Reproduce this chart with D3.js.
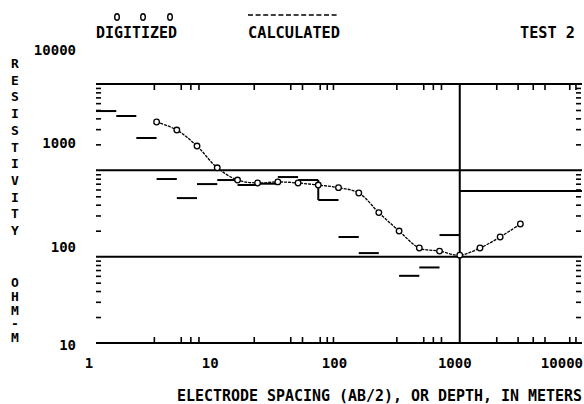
<!DOCTYPE html>
<html>
<head>
<meta charset="utf-8">
<script src="https://cdn.jsdelivr.net/npm/d3@7"></script>
<style>
  body { margin: 0; background: #fff; }
  svg text { font-family: "DejaVu Sans Mono", "Liberation Mono", monospace; font-weight: bold; fill: #000; }
</style>
</head>
<body>
<div id="chart"></div>
<script>
// sounding curve, test 2

// digitized apparent resistivity (AB/2 in m, ohm-m)
var digSpacing = [3.16, 4.64, 6.81, 10, 14.7, 21.5, 31.6, 46.4, 68.1, 100, 147, 215, 316, 464, 681, 1000, 1468, 2154, 3162];
var digRho     = [3630, 2930, 1910, 1070, 772, 713, 735, 713, 675, 630, 546, 324, 198, 126, 116, 104, 126, 169, 239];

// calculated values, one short step per interval
var calcFrom = [1, 1.47, 2.15, 3.16, 4.64, 6.81, 10, 14.7, 21.5, 31.6, 46.4, 68.1, 100, 147, 316, 464, 681];
var calcTo   = [1.47, 2.15, 3.16, 4.64, 6.81, 10, 14.7, 21.5, 31.6, 46.4, 68.1, 100, 147, 215, 464, 681, 1000];
var calcRho  = [4860, 4260, 2370, 793, 477, 693, 772, 676, 700, 836, 772, 453, 169, 110, 60, 75, 178];
var calcJoin = [11];   // steps joined to the one before by a vertical

// long reference lines
var gridRho = [1000, 100];
var gridSpacing = [1000];
var layerFrom = [1000], layerTo = [10000], layerRho = [575];

// ticks
var xTickVals = [3, 5, 6, 7, 20, 40, 50, 70, 80, 90, 300, 500, 600, 700, 2000, 3000, 4000, 5000, 8000, 9000];
var xLabelVals = [1, 10, 100, 1000, 10000];
var yTickVals = [20, 30, 40, 50, 60, 70, 80, 90, 200, 300, 400, 500, 600, 700, 800, 900, 2000, 3000, 4000, 5000, 6000, 7000, 8000, 9000];
var yLabelVals = [10, 100, 1000, 10000];

var W = 584, H = 404;
var pLeft = 96, pRight = 581, pTop = 84, pBottom = 343;

var svg = d3.select("#chart").append("svg")
    .attr("width", W)
    .attr("height", H);

var x = d3.scaleLog().domain([1, 10000]).range([pLeft, pRight]);
var y = d3.scaleLog().domain([10, 10000]).range([pBottom, pTop]);

// frame (top and bottom only)
svg.append("line").attr("x1", pLeft).attr("x2", pRight + 1).attr("y1", pTop).attr("y2", pTop)
    .attr("stroke", "#000").attr("stroke-width", 2);
svg.append("line").attr("x1", pLeft).attr("x2", pRight + 1).attr("y1", pBottom).attr("y2", pBottom)
    .attr("stroke", "#000").attr("stroke-width", 2);

// ticks, all pointing inward
function tickStyle(g) {
    g.select(".domain").remove();
    g.selectAll("line").attr("stroke", "#000").attr("stroke-width", 1.6);
}
svg.append("g").attr("transform", "translate(0," + pTop + ")")
    .call(d3.axisBottom(x).tickValues(xTickVals).tickSize(6).tickFormat(""))
    .call(tickStyle);
svg.append("g").attr("transform", "translate(0," + pBottom + ")")
    .call(d3.axisTop(x).tickValues(xTickVals).tickSize(6).tickFormat(""))
    .call(tickStyle);
svg.append("g").attr("transform", "translate(" + pLeft + ",0)")
    .call(d3.axisRight(y).tickValues(yTickVals).tickSize(5).tickFormat(""))
    .call(tickStyle);
svg.append("g").attr("transform", "translate(" + pRight + ",0)")
    .call(d3.axisLeft(y).tickValues(yTickVals).tickSize(5).tickFormat(""))
    .call(tickStyle);

// reference lines
svg.selectAll(".gridy").data(gridRho).enter().append("line")
    .attr("class", "gridy")
    .attr("x1", pLeft).attr("x2", pRight + 1)
    .attr("y1", function(d) { return y(d); })
    .attr("y2", function(d) { return y(d); })
    .attr("stroke", "#000").attr("stroke-width", 2);
svg.selectAll(".gridx").data(gridSpacing).enter().append("line")
    .attr("class", "gridx")
    .attr("x1", function(d) { return x(d); })
    .attr("x2", function(d) { return x(d); })
    .attr("y1", pTop).attr("y2", pBottom)
    .attr("stroke", "#000").attr("stroke-width", 2);
svg.selectAll(".layer").data(layerRho).enter().append("line")
    .attr("class", "layer")
    .attr("x1", function(d, i) { return x(layerFrom[i]); })
    .attr("x2", function(d, i) { return x(layerTo[i]) + 1; })
    .attr("y1", function(d) { return y(d); })
    .attr("y2", function(d) { return y(d); })
    .attr("stroke", "#000").attr("stroke-width", 2);

// calculated steps
svg.selectAll(".calc").data(calcRho).enter().append("line")
    .attr("class", "calc")
    .attr("x1", function(d, i) { return x(calcFrom[i]); })
    .attr("x2", function(d, i) { return x(calcTo[i]); })
    .attr("y1", function(d) { return y(d); })
    .attr("y2", function(d) { return y(d); })
    .attr("stroke", "#000").attr("stroke-width", 2);
svg.selectAll(".join").data(calcJoin).enter().append("line")
    .attr("class", "join")
    .attr("x1", function(k) { return x(calcFrom[k]); })
    .attr("x2", function(k) { return x(calcFrom[k]); })
    .attr("y1", function(k) { return y(calcRho[k - 1]); })
    .attr("y2", function(k) { return y(calcRho[k]); })
    .attr("stroke", "#000").attr("stroke-width", 2);

var pts = digSpacing.map(function(s, i) { return [x(s), y(digRho[i])]; });
svg.append("path")
    .attr("d", d3.line().curve(d3.curveCatmullRom.alpha(0.5))(pts))
    .attr("fill", "none")
    .attr("stroke", "#000")
    .attr("stroke-width", 1.3)
    .attr("stroke-dasharray", "3,1");
svg.selectAll(".dig").data(pts).enter().append("circle")
    .attr("class", "dig")
    .attr("cx", function(d) { return d[0]; })
    .attr("cy", function(d) { return d[1]; })
    .attr("r", 2.8)
    .attr("fill", "#fff")
    .attr("stroke", "#000")
    .attr("stroke-width", 1.3);

// tick labels (placement follows the original plot's offsets)
var xNudge = {1: -7, 10: -7, 100: -4, 1000: -5};
svg.selectAll(".xlab").data(xLabelVals).enter().append("text")
    .attr("class", "xlab")
    .attr("x", function(d) { return d === 10000 ? x(d) + 2 : x(d) + xNudge[d]; })
    .attr("y", 368)
    .attr("text-anchor", function(d) { return d === 10000 ? "end" : "middle"; })
    .attr("font-size", 14)
    .text(function(d) { return d; });

var yNudge = {10: 7, 100: -5, 1000: -22, 10000: -29};
svg.selectAll(".ylab").data(yLabelVals).enter().append("text")
    .attr("class", "ylab")
    .attr("x", 76)
    .attr("y", function(d) { return y(d) + yNudge[d]; })
    .attr("text-anchor", "end")
    .attr("font-size", 14)
    .text(function(d) { return d; });

// legend / header
svg.append("text").attr("x", 96).attr("y", 38).attr("font-size", 15)
    .attr("textLength", 81).attr("lengthAdjust", "spacingAndGlyphs").text("DIGITIZED");
svg.selectAll(".legdot").data([117, 143, 170]).enter().append("ellipse")
    .attr("class", "legdot")
    .attr("cx", function(d) { return d; }).attr("cy", 17)
    .attr("rx", 2.3).attr("ry", 3.2)
    .attr("fill", "#fff").attr("stroke", "#000").attr("stroke-width", 1.4);
svg.append("text").attr("x", 248).attr("y", 38).attr("font-size", 15)
    .attr("textLength", 92).attr("lengthAdjust", "spacingAndGlyphs").text("CALCULATED");
svg.append("line").attr("x1", 248).attr("x2", 337).attr("y1", 15).attr("y2", 15)
    .attr("stroke", "#000").attr("stroke-width", 1.5).attr("stroke-dasharray", "5,2.6");
svg.append("text").attr("x", 520).attr("y", 38).attr("font-size", 15)
    .attr("textLength", 55).attr("lengthAdjust", "spacingAndGlyphs").text("TEST 2");

// axis titles
svg.append("text").attr("x", 177).attr("y", 401).attr("font-size", 15)
    .attr("textLength", 405).attr("lengthAdjust", "spacingAndGlyphs")
    .text("ELECTRODE SPACING (AB/2), OR DEPTH, IN METERS");

var yTitle1 = "RESISTIVITY".split("");
var yTitle2 = "OHM-M".split("");
svg.selectAll(".yt1").data(yTitle1).enter().append("text")
    .attr("class", "yt1")
    .attr("x", 15).attr("y", function(d, i) { return 68 + i * 16.7; })
    .attr("text-anchor", "middle").attr("font-size", 13)
    .text(function(d) { return d; });
svg.selectAll(".yt2").data(yTitle2).enter().append("text")
    .attr("class", "yt2")
    .attr("x", 15).attr("y", function(d, i) { return 287 + i * 13.8; })
    .attr("text-anchor", "middle").attr("font-size", 13)
    .text(function(d) { return d; });
</script>
</body>
</html>
